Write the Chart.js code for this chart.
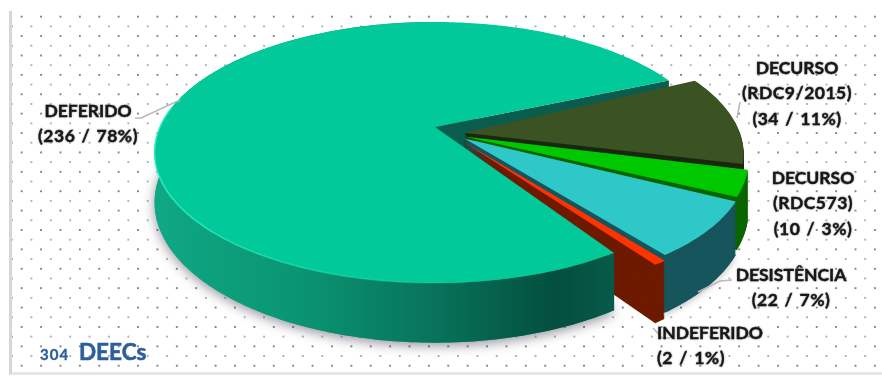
<!DOCTYPE html>
<html>
<head>
<meta charset="utf-8">
<title>DEECs</title>
<script src="https://cdn.jsdelivr.net/npm/chart.js@4/dist/chart.umd.min.js"></script>
<style>
  html, body { margin: 0; padding: 0; background: #fff; overflow: hidden; }
  #paper {
    position: absolute; left: 9px; top: 11px; width: 873px; height: 364px;
    border-left: 3px solid #d6d6d6; border-bottom: 3px solid #e6e6e6; box-sizing: border-box;
    background-color: #fff;
    background-image:
      radial-gradient(circle, #85858e 0.9px, transparent 1.5px),
      radial-gradient(circle, #b0b0b8 0.8px, transparent 1.4px);
    background-size: 19.4px 19.4px;
    background-position: 0 -4px, 9.7px 5.7px;
  }
  canvas { position: absolute; left: 0; top: 0; }
</style>
</head>
<body>
<div id="paper"></div>
<canvas id="myChart" width="882" height="378"></canvas>
<script>
const categories = ["DEFERIDO", "DECURSO (RDC9/2015)", "DECURSO (RDC573)", "DESISTÊNCIA", "INDEFERIDO"];
const values = [236, 34, 10, 22, 2];
const percents = [78, 11, 3, 7, 1];
const labelLines = [["DEFERIDO"], ["DECURSO", "(RDC9/2015)"], ["DECURSO", "(RDC573)"], ["DESISTÊNCIA"], ["INDEFERIDO"]];
const topColors = ["#01c99a", "#3b5323", "#00c800", "#2fc8c8", "#ff3300"];
const wallColors = ["#0a5c4c", "#1b2810", "#0a6500", "#17555c", "#6e1a00"];

// perspective of the pie disc
const apexX = 435, apexY = 127, discW = 275, discH = 125.5, tilt = 0.1955, depth = 48;
function project(u, v, d) {
  const w = 1 - tilt * v;
  return [apexX + discW * u / w, apexY + (discH * v + d) / w];
}

// how far each slice is pulled out: apex (dx, dy), rim (rx, ry), radius
const pulled = [
  { dx: 0, dy: 0, rx: 0, ry: 0, r: 1 },
  { dx: 0.105, dy: 0.045, rx: 0.115, ry: -0.005, r: 0.985 },
  { dx: 0.105, dy: 0.075, rx: 0.142, ry: 0.042, r: 0.965 },
  { dx: 0.105, dy: 0.09, rx: 0.15, ry: 0.08, r: 0.945 },
  { dx: 0.105, dy: 0.12, rx: 0.15, ry: 0.12, r: 0.935 }
];

function rimPoints(i, a0, a1, d) {
  const p = pulled[i], pts = [];
  const n = Math.max(2, Math.ceil(Math.abs(a1 - a0) * 60));
  for (let k = 0; k <= n; k++) {
    const a = a0 + (a1 - a0) * k / n;
    pts.push(project(p.rx + p.r * Math.cos(a), p.ry + p.r * Math.sin(a), d));
  }
  return pts;
}
function tracePoly(ctx, pts) {
  ctx.beginPath();
  pts.forEach((q, k) => (k ? ctx.lineTo(q[0], q[1]) : ctx.moveTo(q[0], q[1])));
  ctx.closePath();
}
function sector(el, i, d) {
  const p = pulled[i];
  return [project(p.dx, p.dy, d)].concat(rimPoints(i, el.startAngle, el.endAngle, d));
}
function drawSlice(ctx, el, i) {
  ctx.fillStyle = wallColors[i];
  for (let d = depth; d > 0; d -= 1) {
    tracePoly(ctx, sector(el, i, d));
    ctx.fill();
  }
  ctx.fillStyle = topColors[i];
  tracePoly(ctx, sector(el, i, 0));
  ctx.fill();
}

const pie3d = {
  id: "pie3d",
  beforeDatasetDraw() {
    return false; // arcs are drawn below, through the perspective
  },
  afterDatasetsDraw(chart) {
    const ctx = chart.ctx;
    const arcs = chart.getDatasetMeta(0).data;
    const main = arcs[0];

    // soft shadow under the big slice
    ctx.save();
    ctx.shadowColor = "rgba(40,40,60,0.5)";
    ctx.shadowBlur = 12;
    ctx.shadowOffsetY = 3;
    ctx.fillStyle = "#0fa885";
    tracePoly(ctx, rimPoints(0, main.startAngle, Math.PI * 1.5, depth));
    ctx.fill();
    ctx.restore();

    // inner wall of the big slice, seen in the gap above the olive slice
    const endEdge = rimPoints(0, main.endAngle, main.endAngle, 0)[0];
    const endEdgeLow = rimPoints(0, main.endAngle, main.endAngle, depth)[0];
    tracePoly(ctx, [project(0, 0, 0), endEdge, endEdgeLow, project(0, 0, depth)]);
    ctx.fillStyle = wallColors[0];
    ctx.fill();

    ctx.save();
    ctx.shadowColor = "rgba(40,40,60,0.3)";
    ctx.shadowBlur = 6;
    ctx.shadowOffsetY = 2;
    tracePoly(ctx, sector(arcs[3], 3, depth));
    ctx.fillStyle = wallColors[3];
    ctx.fill();
    ctx.restore();

    [1, 2, 3, 4].forEach(i => drawSlice(ctx, arcs[i], i));

    // front side of the big slice
    const a0 = main.startAngle, a1 = Math.PI * 1.5;
    const sideGrad = ctx.createLinearGradient(155, 0, 612, 0);
    sideGrad.addColorStop(0, "#0fa885");
    sideGrad.addColorStop(0.32, "#0a9472");
    sideGrad.addColorStop(0.6, "#08745b");
    sideGrad.addColorStop(0.88, "#044e3e");
    sideGrad.addColorStop(1, "#075a49");
    const front = rimPoints(0, a0, a1, 0).concat(rimPoints(0, a1, a0, depth));
    tracePoly(ctx, front);
    ctx.fillStyle = sideGrad;
    ctx.fill();

    ctx.fillStyle = topColors[0];
    tracePoly(ctx, sector(main, 0, 0));
    ctx.fill();

    // bevel highlight along the near rim
    const bevel = ctx.createLinearGradient(155, 0, 480, 0);
    bevel.addColorStop(0, "rgba(40,240,190,0.9)");
    bevel.addColorStop(1, "rgba(40,240,190,0)");
    ctx.beginPath();
    rimPoints(0, Math.PI * 0.45, Math.PI * 1.05, 0).forEach((q, k) => (k ? ctx.lineTo(q[0], q[1]) : ctx.moveTo(q[0], q[1])));
    ctx.strokeStyle = bevel;
    ctx.lineWidth = 1.6;
    ctx.stroke();
  }
};

// leader lines and the category labels
const leaders = [
  [[135, 118], [141, 118], [180, 100]],
  [[740, 102], [737, 118]],
  [],
  [[732, 280], [720, 281], [698, 292]],
  [[670, 338], [662, 338], [653, 328]]
];
const labelSpots = [
  { x: 88, y: 111, last: 88 },
  { x: 797, y: 68, last: 797 },
  { x: 813, y: 178, last: 813 },
  { x: 791, y: 275, last: 791 },
  { x: 710, y: 333, last: 691 }
];
const lineGap = 25.6;

function boldText(ctx, t, x, y) {
  ctx.fillText(t, x, y);
  ctx.strokeText(t, x, y);
}

const labelPlugin = {
  id: "labelPlugin",
  afterDraw(chart) {
    const ctx = chart.ctx;
    ctx.save();
    ctx.strokeStyle = "#b9b9b9";
    ctx.lineWidth = 1.5;
    leaders.forEach(line => {
      if (!line.length) return;
      ctx.beginPath();
      line.forEach((q, k) => (k ? ctx.lineTo(q[0], q[1]) : ctx.moveTo(q[0], q[1])));
      ctx.stroke();
    });

    ctx.font = "bold 17.5px Lato";
    ctx.textAlign = "center";
    ctx.textBaseline = "middle";
    ctx.fillStyle = "#141414";
    ctx.strokeStyle = "#141414";
    ctx.lineWidth = 0.35;
    ctx.shadowColor = "rgba(60,60,60,0.5)";
    ctx.shadowBlur = 2;
    categories.forEach((cat, i) => {
      const spot = labelSpots[i];
      labelLines[i].forEach((t, k) => {
        ctx.letterSpacing = k ? "0.5px" : "0px";
        boldText(ctx, t, spot.x, spot.y + k * lineGap);
      });
      ctx.letterSpacing = "0.5px";
      ctx.wordSpacing = "1.5px";
      boldText(ctx, "(" + values[i] + " / " + percents[i] + "%)", spot.last, spot.y + labelLines[i].length * lineGap);
      ctx.wordSpacing = "0px";
      ctx.letterSpacing = "0px";
    });

    ctx.shadowBlur = 0;
    ctx.textAlign = "left";
    ctx.textBaseline = "alphabetic";
    ctx.fillStyle = "#2c5f9a";
    ctx.strokeStyle = "#2c5f9a";
    ctx.font = "bold 15px Lato";
    ctx.letterSpacing = "1px";
    boldText(ctx, String(values.reduce((a, b) => a + b, 0)), 40, 360);
    ctx.letterSpacing = "0px";
    ctx.font = "bold 22.5px Lato";
    ctx.lineWidth = 0.6;
    boldText(ctx, "DEECs", 79, 360);
    ctx.restore();
  }
};

const myChart = new Chart(document.getElementById("myChart").getContext("2d"), {
  type: "pie",
  data: {
    labels: categories,
    datasets: [{ data: values, backgroundColor: topColors, borderWidth: 0 }]
  },
  options: {
    responsive: false,
    animation: false,
    rotation: 147,
    plugins: { legend: { display: false }, tooltip: { enabled: false } }
  },
  plugins: [pie3d, labelPlugin]
});
</script>
</body>
</html>
